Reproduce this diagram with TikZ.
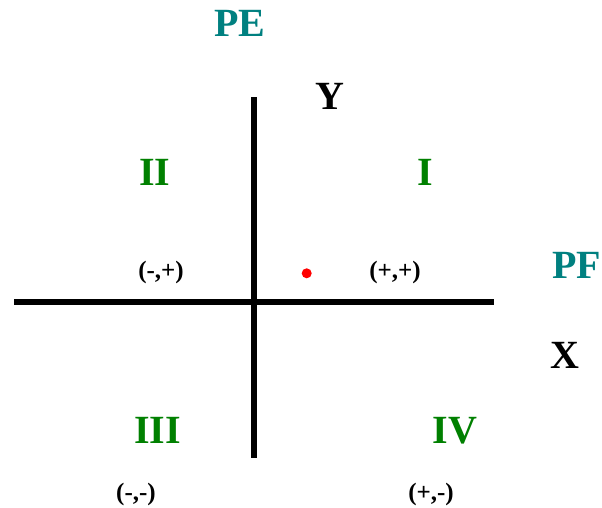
\documentclass[tikz,border=0pt]{standalone}
\usepackage{fontspec}
\setmainfont{Liberation Serif}
\definecolor{tealc}{RGB}{0,128,128}
\definecolor{greenc}{RGB}{0,128,0}
\tikzset{
  axis/.style={line width=6.5pt, line cap=butt},
  bigt/.style={anchor=base, inner sep=0pt, font=\fontsize{40}{40}\selectfont\bfseries},
  quad/.style={bigt, text=greenc},
  axname/.style={bigt, text=tealc},
  sign/.style={anchor=base, inner sep=0pt, font=\fontsize{25}{25}\selectfont\bfseries},
}
\begin{document}
\begin{tikzpicture}[x=1pt,y=-1pt]
\useasboundingbox[fill=white] (0,0) rectangle (602,508);
\coordinate (hl) at (14,301.8);
\coordinate (hr) at (494,301.8);
\coordinate (vt) at (254.2,97.5);
\coordinate (vb) at (254.2,458);
\draw[axis] (hl) -- (hr);
\draw[axis] (vt) -- (vb);
\node[axname] (pe) at (240,37) {PE};
\node[bigt] (y) at (329.5,110) {Y};
\node[axname] (pf) at (576.5,278) {PF};
\node[bigt] (x) at (565,368) {X};
\node[quad] (q2) at (155,185) {II};
\node[quad] (q1) at (425.5,185) {I};
\node[quad] (q3) at (157.5,443) {III};
\node[quad] (q4) at (455,443) {IV};
\node[sign] (s2) at (161,278.5) {(-,+)};
\node[sign] (s1) at (395,278.5) {(+,+)};
\node[sign] (s3) at (136,500.5) {(-,-)};
\node[sign] (s4) at (431,500.5) {(+,-)};
\fill[red] (306.7,273.3) circle (5);
\end{tikzpicture}
\end{document}
